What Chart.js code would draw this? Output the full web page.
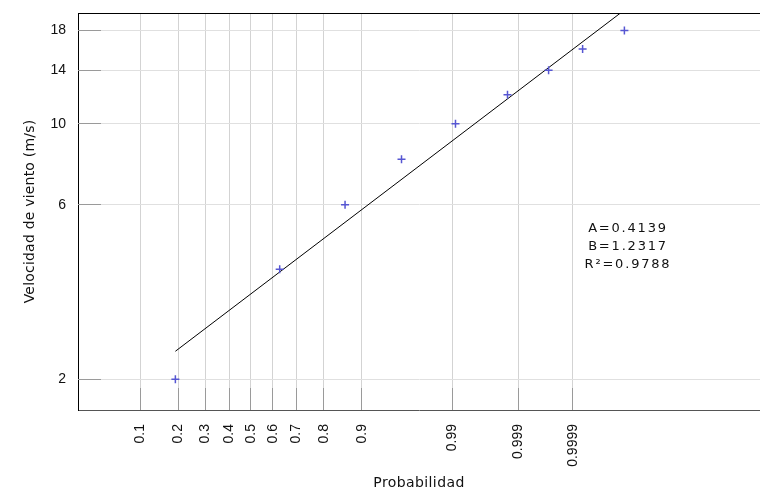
<!DOCTYPE html>
<html>
<head>
<meta charset="utf-8">
<script src="https://cdn.jsdelivr.net/npm/chart.js@4.4.1/dist/chart.umd.min.js"></script>
<style>
  html, body { margin: 0; padding: 0; background: #fff; overflow: hidden; }
  #wrap { width: 760px; height: 493px; position: relative; }
</style>
</head>
<body>
<div id="wrap"><canvas id="c" width="760" height="493"></canvas></div>
<script>
// Wind speed classes (m/s) and their cumulative probabilities
const speeds  = [2, 4, 6, 8, 10, 12, 14, 16, 18];
const cumProb = [0.191, 0.630, 0.8616, 0.9591, 0.99097, 0.99849, 0.99971, 0.999937, 0.9999921];

// Fitted lognormal line: ln(v) = B + A * z
const fitA = 0.4139;
const fitB = 1.2317;
const fitR2 = 0.9788;

// Axis ticks
const probTicks      = [0.1, 0.2, 0.3, 0.4, 0.5, 0.6, 0.7, 0.8, 0.9, 0.99, 0.999, 0.9999];
const probTickLabels = ['0.1', '0.2', '0.3', '0.4', '0.5', '0.6', '0.7', '0.8', '0.9', '0.99', '0.999', '0.9999'];
const speedTicks      = [2, 6, 10, 14, 18];
const speedTickLabels = ['2', '6', '10', '14', '18'];

// Axis ranges (z = standard normal quantile, y = ln of speed)
const zMin = -2.0, zMax = 5.885;
const lnMin = 0.5, lnMax = 3.0;

// Inverse of the standard normal CDF (Acklam's rational approximation)
function normInv(p) {
  const a = [-3.969683028665376e+01, 2.209460984245205e+02, -2.759285104469687e+02,
              1.383577518672690e+02, -3.066479806614716e+01, 2.506628277459239e+00];
  const b = [-5.447609879822406e+01, 1.615858368580409e+02, -1.556989798598866e+02,
              6.680131188771972e+01, -1.328068155288572e+01];
  const c = [-7.784894002430293e-03, -3.223964580411365e-01, -2.400758277161838e+00,
             -2.549732539343734e+00, 4.374664141464968e+00, 2.938163982698783e+00];
  const d = [7.784695709041462e-03, 3.224671290700398e-01, 2.445134137142996e+00,
             3.754408661907416e+00];
  const pl = 0.02425, ph = 1 - pl;
  let q, r;
  if (p < pl) {
    q = Math.sqrt(-2 * Math.log(p));
    return (((((c[0]*q + c[1])*q + c[2])*q + c[3])*q + c[4])*q + c[5]) /
           ((((d[0]*q + d[1])*q + d[2])*q + d[3])*q + 1);
  }
  if (p <= ph) {
    q = p - 0.5; r = q * q;
    return (((((a[0]*r + a[1])*r + a[2])*r + a[3])*r + a[4])*r + a[5]) * q /
           (((((b[0]*r + b[1])*r + b[2])*r + b[3])*r + b[4])*r + 1);
  }
  q = Math.sqrt(-2 * Math.log(1 - p));
  return -(((((c[0]*q + c[1])*q + c[2])*q + c[3])*q + c[4])*q + c[5]) /
          ((((d[0]*q + d[1])*q + d[2])*q + d[3])*q + 1);
}

const points = speeds.map((v, i) => ({ x: normInv(cumProb[i]), y: Math.log(v) }));
const zStart = normInv(cumProb[0]);
const zEnd = normInv(cumProb[cumProb.length - 1]);
const fitLine = [zStart, zEnd].map(z => ({ x: z, y: fitB + fitA * z }));

const align = p => Math.round(p - 0.5) + 0.5;

// Scales keep no extra label overhang padding so the plot box is fixed
const noOverhang = s => { s.paddingTop = 0; s.paddingBottom = 0; s.paddingLeft = 0; s.paddingRight = 0; };

// Inner tick marks, top frame line, axis titles and fit parameters
const framePlugin = {
  id: 'frame',
  beforeDatasetsDraw(chart) {
    const { ctx, chartArea: a, scales: { x, y } } = chart;
    ctx.save();
    ctx.strokeStyle = '#9a9a9a';
    ctx.lineWidth = 1;
    ctx.beginPath();
    speedTicks.forEach(v => {
      const py = align(y.getPixelForValue(Math.log(v)));
      ctx.moveTo(a.left, py);
      ctx.lineTo(a.left + 23, py);
    });
    probTicks.forEach(p => {
      const px = align(x.getPixelForValue(normInv(p)));
      ctx.moveTo(px, a.bottom);
      ctx.lineTo(px, a.bottom - 22);
    });
    ctx.stroke();
    ctx.strokeStyle = '#000';
    ctx.beginPath();
    ctx.moveTo(a.left, a.top + 0.5);
    ctx.lineTo(a.right, a.top + 0.5);
    ctx.stroke();
    ctx.restore();
  },
  afterDraw(chart) {
    const { ctx, chartArea: a } = chart;
    ctx.save();
    ctx.fillStyle = '#111';
    ctx.textAlign = 'center';
    ctx.textBaseline = 'middle';
    ctx.font = '14px "DejaVu Sans"';
    ctx.letterSpacing = '0.4px';
    ctx.fillText('Probabilidad', (a.left + a.right) / 2, 483);

    ctx.save();
    ctx.translate(30, (a.top + a.bottom) / 2);
    ctx.rotate(-Math.PI / 2);
    ctx.letterSpacing = '0.2px';
    ctx.fillText('Velocidad de viento (m/s)', 0, 0);
    ctx.restore();

    ctx.font = '13px "DejaVu Sans"';
    ctx.letterSpacing = '1.8px';
    const cx = a.right - 132;
    ctx.fillText('A=' + fitA.toFixed(4), cx, 229);
    ctx.fillText('B=' + fitB.toFixed(4), cx, 247);
    ctx.fillText('R\u00B2=' + fitR2.toFixed(4), cx, 265);
    ctx.restore();
  }
};

new Chart(document.getElementById('c'), {
  type: 'scatter',
  data: {
    datasets: [
      {
        data: points,
        showLine: false,
        pointStyle: 'cross',
        pointRadius: 4,
        pointBorderColor: '#5656d2',
        pointBackgroundColor: '#5656d2',
        pointBorderWidth: 1.5
      },
      {
        data: fitLine,
        showLine: true,
        borderColor: '#000',
        borderWidth: 1,
        pointRadius: 0,
        fill: false
      }
    ]
  },
  options: {
    responsive: false,
    animation: false,
    events: [],
    layout: { autoPadding: false, padding: { top: 13, right: 0, left: 0, bottom: 0 } },
    plugins: { legend: { display: false }, tooltip: { enabled: false } },
    scales: {
      x: {
        type: 'linear',
        min: zMin,
        max: zMax,
        afterBuildTicks: s => { s.ticks = probTicks.map(p => ({ value: normInv(p) })); },
        afterFit: s => { s.height = 83; noOverhang(s); },
        grid: { color: '#d3d3d3', drawTicks: false },
        border: { display: true, color: '#555', width: 1 },
        ticks: {
          autoSkip: false,
          minRotation: 90,
          maxRotation: 90,
          padding: 14,
          color: '#111',
          font: { family: '"Liberation Sans", Arial, sans-serif', size: 14 },
          callback: (v, i) => probTickLabels[i]
        }
      },
      y: {
        type: 'linear',
        min: lnMin,
        max: lnMax,
        afterBuildTicks: s => { s.ticks = speedTicks.map(v => ({ value: Math.log(v) })); },
        afterFit: s => { s.width = 78; noOverhang(s); },
        grid: { color: '#e0e0e0', drawTicks: false },
        border: { display: true, color: '#000', width: 1 },
        ticks: {
          autoSkip: false,
          padding: 12,
          color: '#111',
          font: { family: '"Liberation Sans", Arial, sans-serif', size: 14 },
          callback: (v, i) => speedTickLabels[i]
        }
      }
    }
  },
  plugins: [framePlugin]
});
</script>
</body>
</html>
